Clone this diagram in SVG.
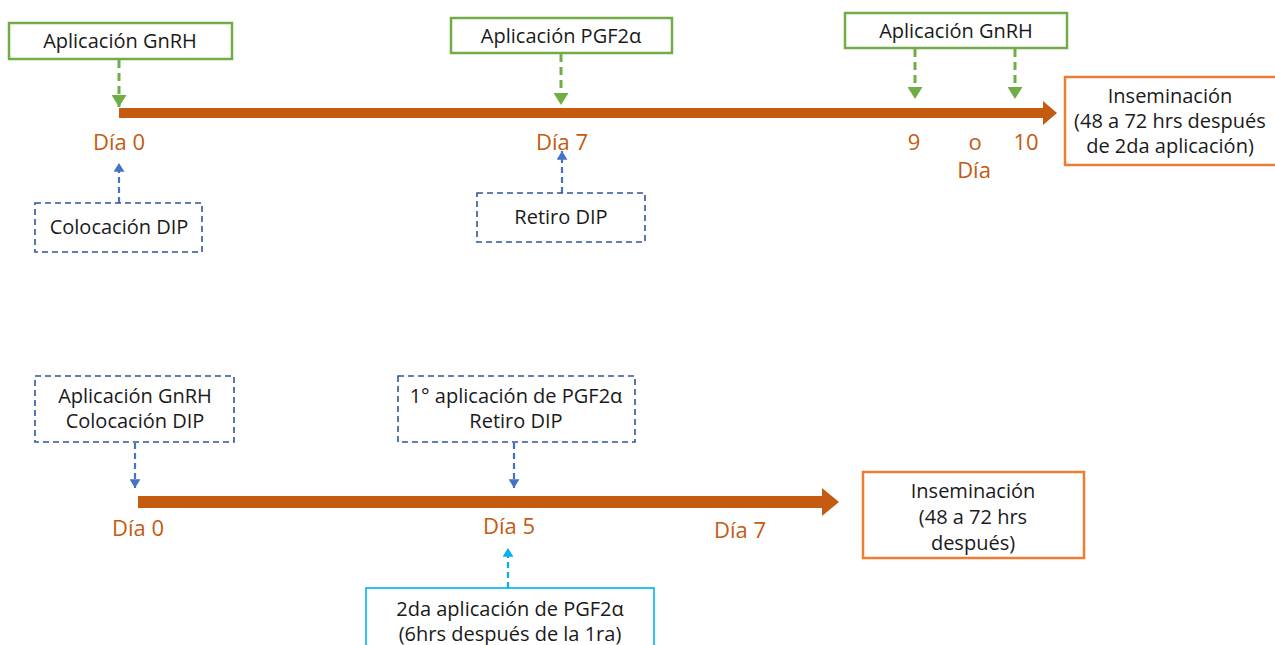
<svg xmlns="http://www.w3.org/2000/svg" width="1275" height="645" viewBox="0 0 1275 645">
<style>
text{font-family:"Open Sans","Noto Sans",sans-serif;font-size:20px;fill:#1a1a1a;text-anchor:middle}
.day{fill:#C55A11;font-size:22px}
.g{fill:#fff;stroke:#70AD47;stroke-width:2.5}
.b{fill:#fff;stroke:#2F5597;stroke-width:1.6;stroke-dasharray:6,4}
.lb{fill:#fff;stroke:#00B0F0;stroke-width:1.6}
.o{fill:#fff;stroke:#ED7D31;stroke-width:2.5}
.ga{stroke:#70AD47;stroke-width:3;stroke-dasharray:8,5;fill:none}
.ba{stroke:#4472C4;stroke-width:2.2;stroke-dasharray:6,4;fill:none}
.la{stroke:#00B0F0;stroke-width:2.2;stroke-dasharray:6,4;fill:none}
.axis{fill:#C55A11}
</style>
<defs>
<marker id="mg" markerWidth="5" markerHeight="5" refX="4" refY="2.5" orient="auto" markerUnits="strokeWidth"><path d="M0,0 L4,2.5 L0,5 z" fill="#70AD47"/></marker>
<marker id="mb" markerWidth="5" markerHeight="5" refX="4" refY="2.5" orient="auto" markerUnits="strokeWidth"><path d="M0,0 L4,2.5 L0,5 z" fill="#4472C4"/></marker>
<marker id="ml" markerWidth="5" markerHeight="5" refX="4" refY="2.5" orient="auto" markerUnits="strokeWidth"><path d="M0,0 L4,2.5 L0,5 z" fill="#00B0F0"/></marker>
</defs>
<g id="connectors">
<polygon class="axis" points="119,108 1043,108 1043,101 1057,113 1043,125 1043,118 119,118"/>
<polygon class="axis" points="138,496 822,496 822,488 839,502 822,516 822,508 138,508"/>
<path d="M119,60 V107" class="ga" marker-end="url(#mg)"/>
<path d="M561,54 V105" class="ga" marker-end="url(#mg)"/>
<path d="M915,49 V99" class="ga" marker-end="url(#mg)"/>
<path d="M1015,49 V99" class="ga" marker-end="url(#mg)"/>
<path d="M119,203 V163" class="ba" marker-end="url(#mb)"/>
<path d="M562,193 V151" class="ba" marker-end="url(#mb)"/>
<path d="M135,443 V488" class="ba" marker-end="url(#mb)"/>
<path d="M514,443 V488" class="ba" marker-end="url(#mb)"/>
<path d="M508,588 V548" class="la" marker-end="url(#ml)"/>
</g>
<g id="n1"><rect class="g" x="9" y="23" width="223" height="36"/><text x="120" y="48">Aplicación GnRH</text></g>
<g id="n2"><rect class="g" x="451" y="18" width="221" height="35"/><text x="561" y="43">Aplicación PGF2α</text></g>
<g id="n3"><rect class="g" x="845" y="13" width="222" height="35"/><text x="956" y="38">Aplicación GnRH</text></g>
<g id="n4"><rect class="b" x="35" y="203" width="167" height="49"/><text x="119" y="234">Colocación DIP</text></g>
<g id="n5"><rect class="b" x="477" y="193" width="168" height="49"/><text x="561" y="224">Retiro DIP</text></g>
<g id="n6"><rect class="o" x="1065" y="77" width="215" height="88"/><text x="1170" y="103">Inseminación</text><text x="1170" y="128">(48 a 72 hrs después</text><text x="1170" y="153">de 2da aplicación)</text></g>
<g id="days1">
<text class="day" x="119" y="150">Día 0</text>
<text class="day" x="562" y="150">Día 7</text>
<text class="day" x="914" y="150">9</text>
<text class="day" x="975" y="150">o</text>
<text class="day" x="1026" y="150">10</text>
<text class="day" x="974" y="178">Día</text>
</g>
<g id="n7"><rect class="b" x="35" y="376" width="199" height="66"/><text x="135" y="403">Aplicación GnRH</text><text x="135" y="428">Colocación DIP</text></g>
<g id="n8"><rect class="b" x="398" y="376" width="237" height="66"/><text x="516" y="403">1° aplicación de PGF2α</text><text x="516" y="428">Retiro DIP</text></g>
<g id="n9"><rect class="lb" x="366" y="588" width="288" height="70"/><text x="510" y="616">2da aplicación de PGF2α</text><text x="510" y="641">(6hrs después de la 1ra)</text></g>
<g id="n10"><rect class="o" x="863" y="472" width="221" height="86"/><text x="973" y="498">Inseminación</text><text x="973" y="524">(48 a 72 hrs</text><text x="973" y="550">después)</text></g>
<g id="days2">
<text class="day" x="138" y="536">Día 0</text>
<text class="day" x="509" y="534">Día 5</text>
<text class="day" x="740" y="538">Día 7</text>
</g>
</svg>
